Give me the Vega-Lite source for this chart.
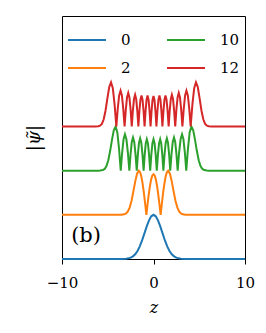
{
 "$schema": "https://vega.github.io/schema/vega-lite/v6.json",
 "width": 183, "height": 243,
 "autosize": {"type": "none"},
 "padding": {"left": 62, "top": 16, "right": 21, "bottom": 74},
 "background": "white",
 "config": {"view": {"stroke": "black", "strokeWidth": 1}, "font": "DejaVu Serif"},
 "layer": [
  {
   "data": {"values": [
    {"n":"0","z":-10,"y":0},{"n":"0","z":-3.5,"y":0.001},{"n":"0","z":-3,"y":0.007},{"n":"0","z":-2.75,"y":0.015},{"n":"0","z":-2.5,"y":0.031},{"n":"0","z":-2.25,"y":0.06},{"n":"0","z":-2,"y":0.108},{"n":"0","z":-1.75,"y":0.182},{"n":"0","z":-1.5,"y":0.287},{"n":"0","z":-1.25,"y":0.42},{"n":"0","z":-1,"y":0.574},{"n":"0","z":-0.75,"y":0.732},{"n":"0","z":-0.5,"y":0.87},{"n":"0","z":-0.25,"y":0.966},{"n":"0","z":0,"y":1},{"n":"0","z":0.25,"y":0.966},{"n":"0","z":0.5,"y":0.87},{"n":"0","z":0.75,"y":0.732},{"n":"0","z":1,"y":0.574},{"n":"0","z":1.25,"y":0.42},{"n":"0","z":1.5,"y":0.287},{"n":"0","z":1.75,"y":0.182},{"n":"0","z":2,"y":0.108},{"n":"0","z":2.25,"y":0.06},{"n":"0","z":2.5,"y":0.031},{"n":"0","z":2.75,"y":0.015},{"n":"0","z":3,"y":0.007},{"n":"0","z":3.5,"y":0.001},{"n":"0","z":10,"y":0},
    {"n":"2","z":-10,"y":1},{"n":"2","z":-3.9,"y":1},{"n":"2","z":-3.5,"y":1.002},{"n":"2","z":-3.2,"y":1.011},{"n":"2","z":-3,"y":1.031},{"n":"2","z":-2.8,"y":1.077},{"n":"2","z":-2.6,"y":1.169},{"n":"2","z":-2.4,"y":1.32},{"n":"2","z":-2.2,"y":1.527},{"n":"2","z":-2,"y":1.752},{"n":"2","z":-1.8,"y":1.931},{"n":"2","z":-1.6,"y":2},{"n":"2","z":-1.463,"y":1.966},{"n":"2","z":-1.327,"y":1.866},{"n":"2","z":-1.19,"y":1.707},{"n":"2","z":-1.053,"y":1.5},{"n":"2","z":-0.917,"y":1.259},{"n":"2","z":-0.78,"y":1},{"n":"2","z":-0.65,"y":1.238},{"n":"2","z":-0.52,"y":1.46},{"n":"2","z":-0.39,"y":1.65},{"n":"2","z":-0.26,"y":1.797},{"n":"2","z":-0.13,"y":1.889},{"n":"2","z":0,"y":1.92},{"n":"2","z":0.13,"y":1.889},{"n":"2","z":0.26,"y":1.797},{"n":"2","z":0.39,"y":1.65},{"n":"2","z":0.52,"y":1.46},{"n":"2","z":0.65,"y":1.238},{"n":"2","z":0.78,"y":1},{"n":"2","z":0.917,"y":1.259},{"n":"2","z":1.053,"y":1.5},{"n":"2","z":1.19,"y":1.707},{"n":"2","z":1.327,"y":1.866},{"n":"2","z":1.463,"y":1.966},{"n":"2","z":1.6,"y":2},{"n":"2","z":1.8,"y":1.931},{"n":"2","z":2,"y":1.752},{"n":"2","z":2.2,"y":1.527},{"n":"2","z":2.4,"y":1.32},{"n":"2","z":2.6,"y":1.169},{"n":"2","z":2.8,"y":1.077},{"n":"2","z":3,"y":1.031},{"n":"2","z":3.2,"y":1.011},{"n":"2","z":3.5,"y":1.002},{"n":"2","z":3.9,"y":1},{"n":"2","z":10,"y":1},
    {"n":"10","z":-10,"y":2},{"n":"10","z":-6,"y":2},{"n":"10","z":-5.84,"y":2.001},{"n":"10","z":-5.54,"y":2.012},{"n":"10","z":-5.34,"y":2.038},{"n":"10","z":-5.14,"y":2.104},{"n":"10","z":-4.94,"y":2.235},{"n":"10","z":-4.74,"y":2.443},{"n":"10","z":-4.54,"y":2.696},{"n":"10","z":-4.34,"y":2.913},{"n":"10","z":-4.14,"y":3},{"n":"10","z":-3.953,"y":2.866},{"n":"10","z":-3.767,"y":2.5},{"n":"10","z":-3.58,"y":2},{"n":"10","z":-3.427,"y":2.41},{"n":"10","z":-3.273,"y":2.71},{"n":"10","z":-3.12,"y":2.82},{"n":"10","z":-2.96,"y":2.71},{"n":"10","z":-2.8,"y":2.41},{"n":"10","z":-2.64,"y":2},{"n":"10","z":-2.507,"y":2.375},{"n":"10","z":-2.373,"y":2.65},{"n":"10","z":-2.24,"y":2.75},{"n":"10","z":-2.103,"y":2.65},{"n":"10","z":-1.967,"y":2.375},{"n":"10","z":-1.83,"y":2},{"n":"10","z":-1.707,"y":2.365},{"n":"10","z":-1.583,"y":2.632},{"n":"10","z":-1.46,"y":2.73},{"n":"10","z":-1.333,"y":2.632},{"n":"10","z":-1.207,"y":2.365},{"n":"10","z":-1.08,"y":2},{"n":"10","z":-0.963,"y":2.355},{"n":"10","z":-0.847,"y":2.615},{"n":"10","z":-0.73,"y":2.71},{"n":"10","z":-0.607,"y":2.615},{"n":"10","z":-0.483,"y":2.355},{"n":"10","z":-0.36,"y":2},{"n":"10","z":-0.24,"y":2.355},{"n":"10","z":-0.12,"y":2.615},{"n":"10","z":0,"y":2.71},{"n":"10","z":0.12,"y":2.615},{"n":"10","z":0.24,"y":2.355},{"n":"10","z":0.36,"y":2},{"n":"10","z":0.483,"y":2.355},{"n":"10","z":0.607,"y":2.615},{"n":"10","z":0.73,"y":2.71},{"n":"10","z":0.847,"y":2.615},{"n":"10","z":0.963,"y":2.355},{"n":"10","z":1.08,"y":2},{"n":"10","z":1.207,"y":2.365},{"n":"10","z":1.333,"y":2.632},{"n":"10","z":1.46,"y":2.73},{"n":"10","z":1.583,"y":2.632},{"n":"10","z":1.707,"y":2.365},{"n":"10","z":1.83,"y":2},{"n":"10","z":1.967,"y":2.375},{"n":"10","z":2.103,"y":2.65},{"n":"10","z":2.24,"y":2.75},{"n":"10","z":2.373,"y":2.65},{"n":"10","z":2.507,"y":2.375},{"n":"10","z":2.64,"y":2},{"n":"10","z":2.8,"y":2.41},{"n":"10","z":2.96,"y":2.71},{"n":"10","z":3.12,"y":2.82},{"n":"10","z":3.273,"y":2.71},{"n":"10","z":3.427,"y":2.41},{"n":"10","z":3.58,"y":2},{"n":"10","z":3.767,"y":2.5},{"n":"10","z":3.953,"y":2.866},{"n":"10","z":4.14,"y":3},{"n":"10","z":4.34,"y":2.913},{"n":"10","z":4.54,"y":2.696},{"n":"10","z":4.74,"y":2.443},{"n":"10","z":4.94,"y":2.235},{"n":"10","z":5.14,"y":2.104},{"n":"10","z":5.34,"y":2.038},{"n":"10","z":5.54,"y":2.012},{"n":"10","z":5.84,"y":2.001},{"n":"10","z":6,"y":2},{"n":"10","z":10,"y":2},
    {"n":"12","z":-10,"y":3},{"n":"12","z":-6.34,"y":3},{"n":"12","z":-6.04,"y":3.004},{"n":"12","z":-5.84,"y":3.017},{"n":"12","z":-5.64,"y":3.059},{"n":"12","z":-5.44,"y":3.163},{"n":"12","z":-5.24,"y":3.361},{"n":"12","z":-5.04,"y":3.636},{"n":"12","z":-4.84,"y":3.893},{"n":"12","z":-4.64,"y":4},{"n":"12","z":-4.447,"y":3.866},{"n":"12","z":-4.253,"y":3.5},{"n":"12","z":-4.06,"y":3},{"n":"12","z":-3.907,"y":3.405},{"n":"12","z":-3.753,"y":3.701},{"n":"12","z":-3.6,"y":3.81},{"n":"12","z":-3.453,"y":3.701},{"n":"12","z":-3.307,"y":3.405},{"n":"12","z":-3.16,"y":3},{"n":"12","z":-3.027,"y":3.38},{"n":"12","z":-2.893,"y":3.658},{"n":"12","z":-2.76,"y":3.76},{"n":"12","z":-2.632,"y":3.658},{"n":"12","z":-2.503,"y":3.38},{"n":"12","z":-2.375,"y":3},{"n":"12","z":-2.253,"y":3.36},{"n":"12","z":-2.132,"y":3.624},{"n":"12","z":-2.01,"y":3.72},{"n":"12","z":-1.892,"y":3.624},{"n":"12","z":-1.773,"y":3.36},{"n":"12","z":-1.655,"y":3},{"n":"12","z":-1.54,"y":3.35},{"n":"12","z":-1.425,"y":3.606},{"n":"12","z":-1.31,"y":3.7},{"n":"12","z":-1.198,"y":3.606},{"n":"12","z":-1.087,"y":3.35},{"n":"12","z":-0.975,"y":3},{"n":"12","z":-0.867,"y":3.35},{"n":"12","z":-0.758,"y":3.606},{"n":"12","z":-0.65,"y":3.7},{"n":"12","z":-0.54,"y":3.606},{"n":"12","z":-0.43,"y":3.35},{"n":"12","z":-0.32,"y":3},{"n":"12","z":-0.213,"y":3.345},{"n":"12","z":-0.107,"y":3.598},{"n":"12","z":0,"y":3.69},{"n":"12","z":0.107,"y":3.598},{"n":"12","z":0.213,"y":3.345},{"n":"12","z":0.32,"y":3},{"n":"12","z":0.43,"y":3.35},{"n":"12","z":0.54,"y":3.606},{"n":"12","z":0.65,"y":3.7},{"n":"12","z":0.758,"y":3.606},{"n":"12","z":0.867,"y":3.35},{"n":"12","z":0.975,"y":3},{"n":"12","z":1.087,"y":3.35},{"n":"12","z":1.198,"y":3.606},{"n":"12","z":1.31,"y":3.7},{"n":"12","z":1.425,"y":3.606},{"n":"12","z":1.54,"y":3.35},{"n":"12","z":1.655,"y":3},{"n":"12","z":1.773,"y":3.36},{"n":"12","z":1.892,"y":3.624},{"n":"12","z":2.01,"y":3.72},{"n":"12","z":2.132,"y":3.624},{"n":"12","z":2.253,"y":3.36},{"n":"12","z":2.375,"y":3},{"n":"12","z":2.503,"y":3.38},{"n":"12","z":2.632,"y":3.658},{"n":"12","z":2.76,"y":3.76},{"n":"12","z":2.893,"y":3.658},{"n":"12","z":3.027,"y":3.38},{"n":"12","z":3.16,"y":3},{"n":"12","z":3.307,"y":3.405},{"n":"12","z":3.453,"y":3.701},{"n":"12","z":3.6,"y":3.81},{"n":"12","z":3.753,"y":3.701},{"n":"12","z":3.907,"y":3.405},{"n":"12","z":4.06,"y":3},{"n":"12","z":4.253,"y":3.5},{"n":"12","z":4.447,"y":3.866},{"n":"12","z":4.64,"y":4},{"n":"12","z":4.84,"y":3.893},{"n":"12","z":5.04,"y":3.636},{"n":"12","z":5.24,"y":3.361},{"n":"12","z":5.44,"y":3.163},{"n":"12","z":5.64,"y":3.059},{"n":"12","z":5.84,"y":3.017},{"n":"12","z":6.04,"y":3.004},{"n":"12","z":6.34,"y":3},{"n":"12","z":10,"y":3}
   ]},
   "mark": {"type": "line", "strokeWidth": 2, "clip": false},
   "encoding": {
    "x": {"field": "z", "type": "quantitative", "scale": {"domain": [-10, 10], "nice": false},
      "axis": {"title": "z", "values": [-10, 0, 10], "grid": false, "tickSize": 5, "tickColor": "black", "tickWidth": 1, "domainColor": "black", "labelFont": "DejaVu Serif", "labelFontSize": 15, "labelColor": "black", "labelPadding": 11, "labelFlush": false, "titleFont": "DejaVu Serif", "titleFontSize": 16, "titleFontStyle": "italic", "titleFontWeight": "normal", "titleColor": "black", "titlePadding": 9}},
    "y": {"field": "y", "type": "quantitative", "scale": {"domain": [0, 5.5], "nice": false, "zero": false},
      "axis": {"title": "|ψ̃|", "labels": false, "ticks": false, "grid": false, "domain": false, "titleFont": "DejaVu Serif", "titleFontSize": 18, "titleFontStyle": "italic", "titleFontWeight": "normal", "titleColor": "black", "titlePadding": 19}},
    "color": {"field": "n", "type": "nominal",
      "scale": {"domain": ["0", "2", "10", "12"], "range": ["#1f77b4", "#ff7f0e", "#2ca02c", "#d62728"]},
      "legend": {"title": null, "orient": "none", "legendX": 5, "legendY": 4, "columns": 2, "symbolType": "stroke", "symbolSize": 1444, "symbolStrokeWidth": 2, "labelFont": "DejaVu Serif", "labelFontSize": 15, "labelColor": "black", "labelOffset": 14, "columnPadding": 32, "rowPadding": -11, "padding": 0}}
   }
  },
  {
   "data": {"values": [{"z": -9, "y": 0.39, "t": "(b)"}]},
   "mark": {"type": "text", "align": "left", "baseline": "alphabetic", "fontSize": 21, "font": "DejaVu Serif", "color": "black"},
   "encoding": {"x": {"field": "z", "type": "quantitative"}, "y": {"field": "y", "type": "quantitative"}, "text": {"field": "t"}}
  }
 ]
}
